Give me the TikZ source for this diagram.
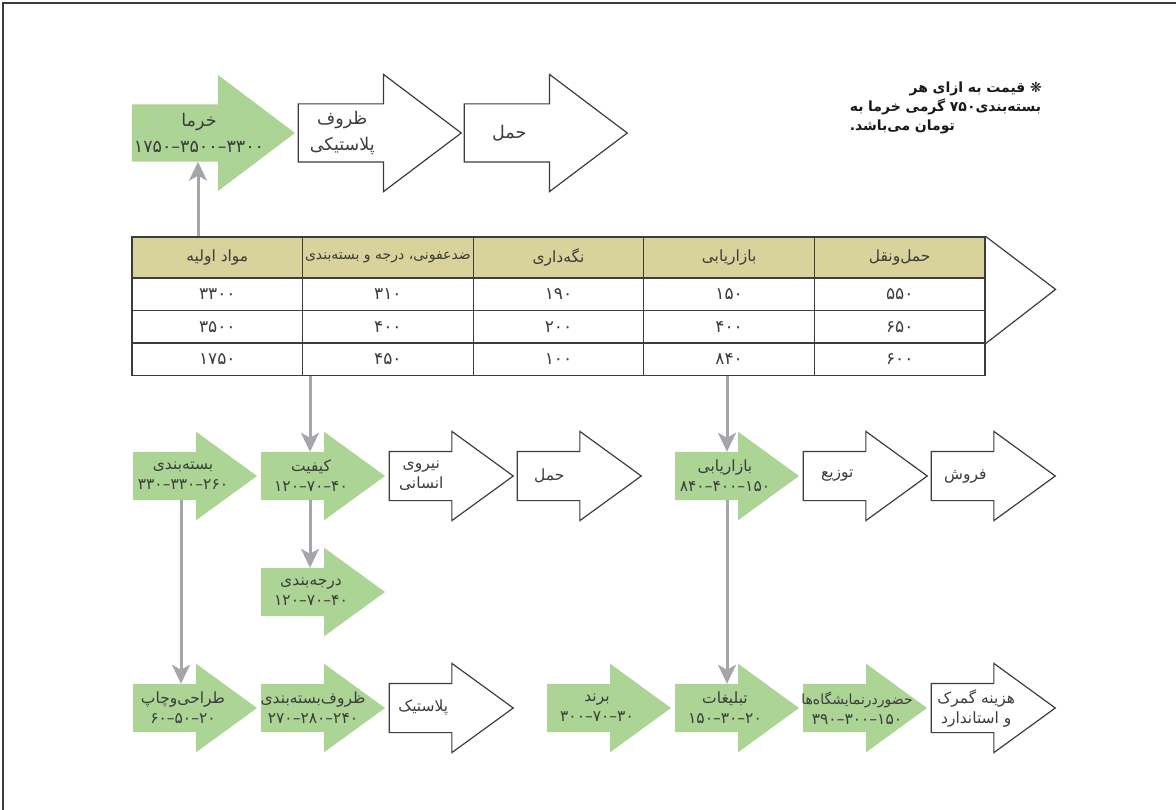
\documentclass[tikz,border=0pt]{standalone}
\usepackage{fontspec}
\usetikzlibrary{positioning,shapes.arrows,arrows.meta}
\newfontfamily\fa[Script=Arabic]{DejaVu Sans}
\TeXXeTstate=1
\definecolor{sabz}{RGB}{172,212,148}
\definecolor{khaki}{RGB}{215,211,155}
\definecolor{tosi}{RGB}{166,166,170}
\definecolor{khat}{RGB}{60,60,60}

\tikzset{
  arr/.style={single arrow, minimum height=124pt, single arrow head extend=20pt,
    single arrow tip angle=72, inner xsep=0pt, inner ysep=24pt, outer sep=0pt},
  big/.style={arr, minimum height=163pt, inner ysep=28.5pt,
    single arrow head extend=29.5pt, single arrow tip angle=74},
  sabzarr/.style={fill=sabz},
  sefid/.style={draw=khat, line width=1.2pt, fill=white},
  lab/.style={font=\fa\fontsize{15.5}{20}\selectfont, text=khat, align=center, inner sep=0pt},
  labbig/.style={lab, font=\fa\fontsize{17.5}{26}\selectfont},
  sarkhat/.style={draw=khat, line width=1.2pt, fill=khaki, minimum width=170.6pt,
    minimum height=41pt, inner sep=0pt, text=khat, font=\fa\fontsize{15.5}{17}\selectfont},
  khane/.style={draw=khat, line width=1.2pt, fill=white, minimum width=170.6pt,
    minimum height=32.5pt, inner sep=0pt, text=khat, font=\fa\fontsize{17}{19}\selectfont},
  vasl/.style={draw=tosi, line width=3pt, -{Stealth[length=19pt,width=18pt,inset=5pt]}},
  yad/.style={font=\fa\bfseries\fontsize{14}{19}\selectfont, text=black!90, align=left,
    text width=192pt, inner sep=0pt}
}

\begin{document}
\begin{tikzpicture}[x=1pt,y=-1pt,node distance=128pt,on grid]
\useasboundingbox (0,0) rectangle (1176,810);
\draw[khat,line width=1.7pt] (3,810) -- (3,3) -- (1176,3);

% top row
\node[big,sabzarr,anchor=tail] (khorma) at (132,133) {};
\node[big,sefid,right=166pt of khorma] (zoruf) {};
\node[big,sefid,right=166pt of zoruf] (haml1) {};
\node[labbig] (khorma-t) at ([xshift=67pt]khorma.tail) {\beginR خرما\endR\\۳۳۰۰–۳۵۰۰–۱۷۵۰};
\node[labbig] (zoruf-t) at ([xshift=44pt]zoruf.tail) {\beginR ظروف\endR\\\beginR پلاستیکی\endR};
\node[labbig] (haml1-t) at ([xshift=45pt]haml1.tail) {\beginR حمل\endR};

% note
\node[yad,anchor=north east] (note) at (1042,82) {\hfill\beginR{\fa\mdseries ❋} قیمت به ازای هر\endR\\
  \beginR بسته^^^^200cبندی۷۵۰ گرمی خرما به\endR\\
  \beginR تومان می^^^^200cباشد.\endR};

% table
\foreach \h [count=\i] in {مواد اولیه, \fontsize{14}{16}\selectfont ضدعفونی، درجه و بسته^^^^200cبندی, نگه^^^^200cداری, بازاریابی, حمل^^^^200cونقل}
  \node[sarkhat] (h\i) at ({132+170.6*(\i-0.5)},257.5) {\beginR\h\endR};
\foreach \radif [count=\r] in {{۳۳۰۰,۳۱۰,۱۹۰,۱۵۰,۵۵۰},{۳۵۰۰,۴۰۰,۲۰۰,۴۰۰,۶۵۰},{۱۷۵۰,۴۵۰,۱۰۰,۸۴۰,۶۰۰}}
  \foreach \v [count=\i] in \radif
    \node[khane] (c\r\i) at ({132+170.6*(\i-0.5)},{278+32.5*(\r-0.5)}) {\v};
\draw[khat,line width=1.2pt] (h5.north east) -- ++(70,53) -- (c25.south east);

% middle row
\node[arr,sabzarr,anchor=tail] (basta) at (133,476) {};
\node[arr,sabzarr,right=of basta] (keyfiyat) {};
\node[arr,sefid,right=of keyfiyat] (niru) {};
\node[arr,sefid,right=of niru] (haml2) {};
\node[arr,sabzarr,right=158pt of haml2] (bazar) {};
\node[arr,sefid,right=of bazar] (tozi) {};
\node[arr,sefid,right=of tozi] (forush) {};
\node[arr,sabzarr,below=116pt of keyfiyat] (daraje) {};
\node[lab] (basta-t) at ([xshift=50pt]basta.tail) {\beginR بسته^^^^200cبندی\endR\\۲۶۰–۳۳۰–۳۳۰};
\node[lab] (keyfiyat-t) at ([xshift=50pt]keyfiyat.tail) {\beginR کیفیت\endR\\۴۰–۷۰–۱۲۰};
\node[lab] (niru-t) at ([xshift=32pt]niru.tail) {\beginR نیروی\endR\\\beginR انسانی\endR};
\node[lab] (haml2-t) at ([xshift=32pt]haml2.tail) {\beginR حمل\endR};
\node[lab] (bazar-t) at ([xshift=50pt]bazar.tail) {\beginR بازاریابی\endR\\۱۵۰–۴۰۰–۸۴۰};
\node[lab] (tozi-t) at ([xshift=34pt]tozi.tail) {\beginR توزیع\endR};
\node[lab] (forush-t) at ([xshift=34pt]forush.tail) {\beginR فروش\endR};
\node[lab] (daraje-t) at ([xshift=50pt]daraje.tail) {\beginR درجه^^^^200cبندی\endR\\۴۰–۷۰–۱۲۰};

% bottom row
\node[arr,sabzarr,anchor=tail] (tarahi) at (133,708) {};
\node[arr,sabzarr,right=of tarahi] (zarf) {};
\node[arr,sefid,right=of zarf] (plastic) {};
\node[arr,sabzarr,right=158pt of plastic] (brand) {};
\node[arr,sabzarr,right=of brand] (tabligh) {};
\node[arr,sabzarr,right=of tabligh] (hozur) {};
\node[arr,sefid,right=of hozur] (gomrok) {};
\node[lab] (tarahi-t) at ([xshift=50pt]tarahi.tail) {\beginR طراحی^^^^200cوچاپ\endR\\۲۰–۵۰–۶۰};
\node[lab] (zarf-t) at ([xshift=52pt]zarf.tail) {\beginR ظروف^^^^200cبسته^^^^200cبندی\endR\\۲۴۰–۲۸۰–۲۷۰};
\node[lab] (plastic-t) at ([xshift=34pt]plastic.tail) {\beginR پلاستیک\endR};
\node[lab] (brand-t) at ([xshift=50pt]brand.tail) {\beginR برند\endR\\۳۰–۷۰–۳۰۰};
\node[lab] (tabligh-t) at ([xshift=50pt]tabligh.tail) {\beginR تبلیغات\endR\\۲۰–۳۰–۱۵۰};
\node[lab] (hozur-t) at ([xshift=54pt]hozur.tail) {\fontsize{14}{20}\selectfont\beginR حضوردرنمایشگاه^^^^200cها\endR\\۱۵۰–۳۰۰–۳۹۰};
\node[lab] (gomrok-t) at ([xshift=45pt]gomrok.tail) {\beginR هزینه گمرک\endR\\\beginR و استاندارد\endR};

% gray links
\coordinate (g1) at (198,0);
\coordinate (g2) at (310,0);
\coordinate (g3) at (727,0);
\coordinate (g4) at (181,0);
\draw[vasl] (g1 |- h1.north) -- (g1 |- khorma.270);
\draw[vasl] (g2 |- c32.south) -- (g2 |- keyfiyat.90);
\draw[vasl] (g2 |- keyfiyat.270) -- (g2 |- daraje.90);
\draw[vasl] (g3 |- c34.south) -- (g3 |- bazar.90);
\draw[vasl] (g3 |- bazar.270) -- (g3 |- tabligh.90);
\draw[vasl] (g4 |- basta.270) -- (g4 |- tarahi.90);
\end{tikzpicture}
\end{document}
